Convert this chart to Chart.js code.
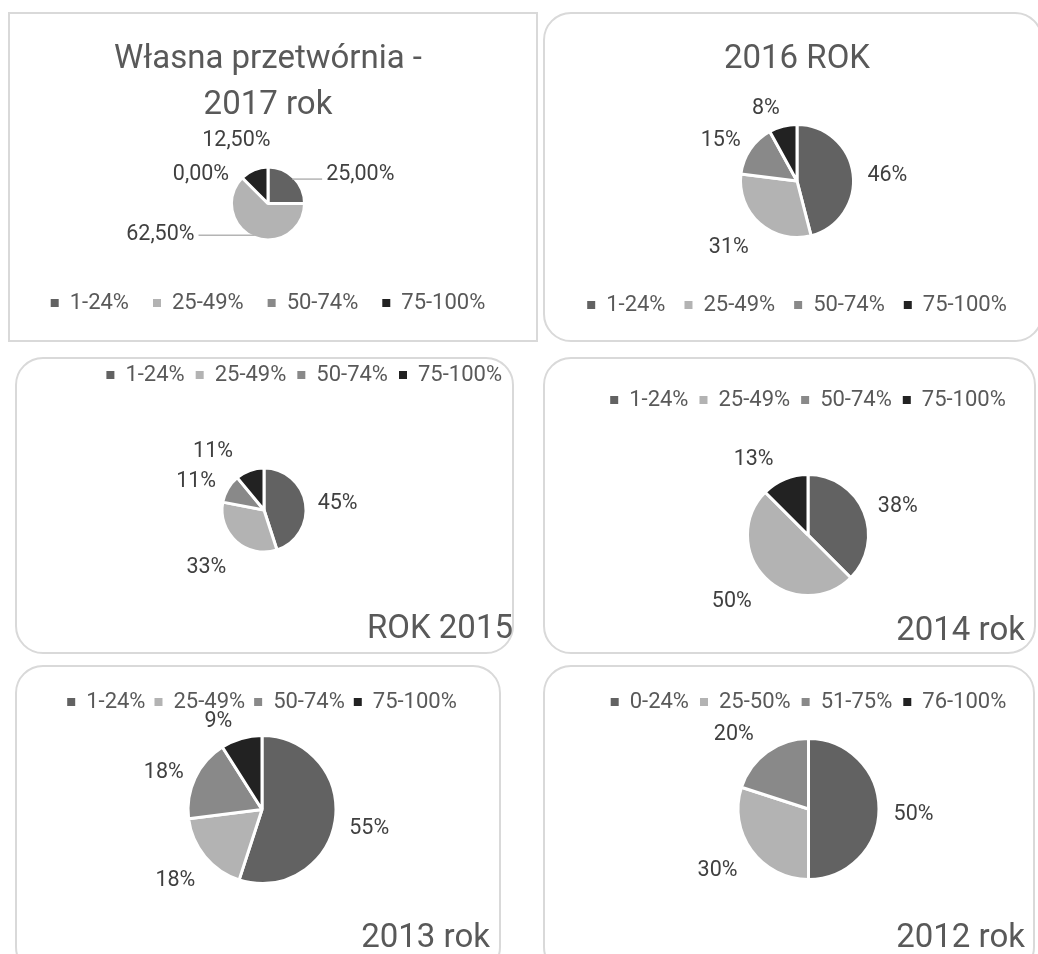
<!DOCTYPE html>
<html>
<head>
<meta charset="utf-8">
<title>Własna przetwórnia</title>
<script src="https://cdn.jsdelivr.net/npm/chart.js@4.4.1/dist/chart.umd.min.js"></script>
<style>
    html, body {
        margin: 0;
        padding: 0;
        background: #fff;
        width: 1038px;
        height: 954px;
        overflow: hidden;
        position: relative;
    }
    .frame {
        position: absolute;
        box-sizing: border-box;
        border: 2px solid #d9d9d9;
        border-radius: 28px;
    }
    .frame.flat { border-radius: 0; }
    canvas { position: absolute; }
</style>
</head>
<body>

<div class="frame flat" style="left:8px;top:12px;width:530px;height:330px"></div>
<div class="frame" style="left:543px;top:12px;width:500px;height:330px"></div>
<div class="frame" style="left:15px;top:357px;width:499px;height:297px"></div>
<div class="frame" style="left:543px;top:357px;width:493px;height:297px"></div>
<div class="frame" style="left:15px;top:665px;width:486px;height:310px"></div>
<div class="frame" style="left:543px;top:665px;width:492px;height:310px"></div>

<canvas id="c2017" width="530" height="329" style="left:8px;top:12px"></canvas>
<canvas id="c2016" width="520" height="329" style="left:543px;top:12px"></canvas>
<canvas id="c2015" width="530" height="326" style="left:5px;top:327px"></canvas>
<canvas id="c2014" width="500" height="326" style="left:540px;top:327px"></canvas>
<canvas id="c2013" width="500" height="340" style="left:10px;top:635px"></canvas>
<canvas id="c2012" width="500" height="340" style="left:540px;top:635px"></canvas>

<script>
// Data (shares in %)
const ranges = ['1-24%', '25-49%', '50-74%', '75-100%'];
const ranges2012 = ['0-24%', '25-50%', '51-75%', '76-100%'];

const shares2017 = [25, 62.5, 0, 12.5];
const shares2016 = [46, 31, 15, 8];
const shares2015 = [45, 33, 11, 11];
const shares2014 = [37.5, 50, null, 12.5];
const shares2013 = [55, 18, 18, 9];
const shares2012 = [50, 30, 20, null];

const sliceColors = ['#626262', '#b3b3b3', '#898989', '#222222'];

const FONT = 'Roboto, "Open Sans", sans-serif';
Chart.defaults.font.family = FONT;
Chart.defaults.color = '#595959';

// Percent labels placed just outside each slice
const sliceLabels = {
    id: 'sliceLabels',
    afterDatasetsDraw: function(chart, args, opts) {
        const ctx = chart.ctx;
        const meta = chart.getDatasetMeta(0);
        const values = chart.data.datasets[0].data;
        ctx.save();
        ctx.font = '21.5px ' + FONT;
        ctx.textAlign = 'center';
        ctx.textBaseline = 'middle';
        meta.data.forEach(function(arc, i) {
            const v = values[i];
            if (v === null) return;
            const p = arc.getProps(['x', 'y', 'startAngle', 'endAngle', 'outerRadius']);
            const mid = (p.startAngle + p.endAngle) / 2;
            const dx = Math.cos(mid);
            const dy = Math.sin(mid);
            const text = v.toFixed(opts.decimals).replace('.', ',') + '%';
            const w = ctx.measureText(text).width;
            const R = p.outerRadius + opts.gap;
            const n = (opts.nudges && opts.nudges[i]) || [0, 0];
            const lx = p.x + dx * R + dx * w / 2 + n[0];
            const ly = p.y + dy * R + dy * 10 + n[1] + 4;

            // leader line for labels pushed away from their slice
            if (opts.leaders && opts.leaders[i]) {
                const ex = p.x + dx * (p.outerRadius - 2);
                const ey = p.y + dy * (p.outerRadius - 2);
                const tx = lx > ex ? lx - w / 2 - 4 : lx + w / 2 + 4;
                ctx.strokeStyle = '#b4b4b4';
                ctx.lineWidth = 1.5;
                ctx.beginPath();
                ctx.moveTo(ex, ey);
                ctx.lineTo(tx, ey);
                ctx.stroke();
            }
            ctx.fillStyle = opts.color;
            ctx.fillText(text, lx, ly);
        });
        ctx.restore();
    }
};

function legendItems(chart) {
    const ds = chart.data.datasets[0];
    return chart.data.labels.map(function(text, i) {
        return {
            text: text,
            fillStyle: ds.backgroundColor[i],
            strokeStyle: ds.backgroundColor[i],
            lineWidth: 0,
            fontColor: '#595959',
            hidden: false,
            index: i
        };
    });
}

function makePie(canvasId, labels, values, cfg) {
    const canvas = document.getElementById(canvasId);
    return new Chart(canvas.getContext('2d'), {
        type: 'pie',
        data: {
            labels: labels,
            datasets: [{
                data: values,
                backgroundColor: sliceColors,
                borderColor: '#ffffff',
                borderWidth: 3,
                radius: cfg.radius
            }]
        },
        options: {
            responsive: false,
            animation: false,
            events: [],
            layout: { padding: cfg.padding },
            plugins: {
                title: {
                    display: true,
                    text: cfg.title,
                    position: cfg.titlePos,
                    align: cfg.titleAlign,
                    color: '#595959',
                    font: { size: 33, weight: 'normal', lineHeight: cfg.titleLine || 1.2 },
                    padding: cfg.titlePad
                },
                legend: {
                    display: true,
                    position: cfg.legendPos,
                    align: cfg.legendAlign || 'center',
                    labels: {
                        boxWidth: 8,
                        boxHeight: 8,
                        padding: cfg.legendGap,
                        color: '#595959',
                        font: { size: 22 },
                        generateLabels: legendItems
                    }
                },
                tooltip: { enabled: false },
                sliceLabels: {
                    decimals: cfg.decimals || 0,
                    gap: 14.6,
                    color: '#404040',
                    nudges: cfg.nudges,
                    leaders: cfg.leaders
                }
            }
        },
        plugins: [sliceLabels]
    });
}

makePie('c2017', ranges, shares2017, {
    radius: 36.5,
    padding: { left: 0, right: 10, top: 0, bottom: 17 },
    title: ['Własna przetwórnia -', '2017 rok'],
    titlePos: 'top', titleAlign: 'center', titleLine: 1.409,
    titlePad: { top: 24.25, bottom: 9.75 },
    legendPos: 'bottom', legendGap: 24,
    decimals: 2,
    nudges: [[32, 10], [-75, -29.5], [-11, 10], [1, -10]],
    leaders: [true, true, false, false]
});

makePie('c2016', ranges, shares2016, {
    radius: 56.5,
    padding: { left: 0, right: 12, top: 0, bottom: 15 },
    title: '2016 ROK',
    titlePos: 'top', titleAlign: 'center',
    titlePad: { top: 27.5, bottom: 7.9 },
    legendPos: 'bottom', legendGap: 19,
    nudges: [[0, 1], [-8, 2], [-1, 1], [-10, 2]]
});

makePie('c2015', ranges, shares2015, {
    radius: 42,
    padding: { left: 10, right: 22, top: 26, bottom: 0 },
    title: 'ROK 2015',
    titlePos: 'bottom', titleAlign: 'end',
    titlePad: { top: -14.3, bottom: 3.7 },
    legendPos: 'top', legendAlign: 'end', legendGap: 11,
    nudges: [[-2, 0], [-7, 4], [-2, 2], [-25, 0]]
});

makePie('c2014', ranges, shares2014, {
    radius: 60.5,
    padding: { left: 51, right: 15, top: 51, bottom: 0 },
    title: '2014 rok',
    titlePos: 'bottom', titleAlign: 'end',
    titlePad: { top: -36.8, bottom: 1.2 },
    legendPos: 'top', legendGap: 11,
    nudges: [[2, 0], [-9, 2], [0, 0], [-18, -1]]
});

makePie('c2013', ranges, shares2013, {
    radius: 74,
    padding: { left: 24, right: 20, top: 47, bottom: 0 },
    title: '2013 rok',
    titlePos: 'bottom', titleAlign: 'end',
    titlePad: { top: 23.2, bottom: 16.2 },
    legendPos: 'top', legendGap: 9,
    nudges: [[0, 0], [-3, 4], [0, 1], [-15, 3]]
});

makePie('c2012', ranges2012, shares2012, {
    radius: 70.5,
    padding: { left: 52, right: 15, top: 45, bottom: 0 },
    title: '2012 rok',
    titlePos: 'bottom', titleAlign: 'end',
    titlePad: { top: 24.2, bottom: 16.2 },
    legendPos: 'top', legendGap: 11,
    nudges: [[0, 2], [-6, 2], [-13, -1], [0, 0]]
});
</script>
</body>
</html>
